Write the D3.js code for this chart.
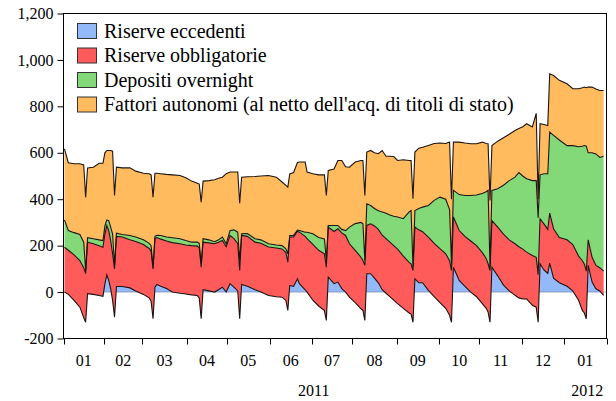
<!DOCTYPE html>
<html lang="it">
<head>
<meta charset="UTF-8">
<title>Riserve e fattori di liquidità</title>
<script src="https://d3js.org/d3.v7.min.js"></script>
<style>
  body { margin: 0; background: #fff; }
</style>
</head>
<body>
<svg id="chart" width="616" height="401"></svg>
<script>
// giorni lavorativi (punti salienti)
const dates = [
  "2011-01-03","2011-01-05","2011-01-10","2011-01-13","2011-01-17","2011-01-18","2011-01-19","2011-01-24","2011-01-27","2011-01-31",
  "2011-02-01","2011-02-02","2011-02-03","2011-02-04","2011-02-07","2011-02-08","2011-02-09","2011-02-14","2011-02-18","2011-02-23",
  "2011-03-01","2011-03-04","2011-03-07","2011-03-08","2011-03-09","2011-03-10","2011-03-14","2011-03-17","2011-03-22","2011-03-28",
  "2011-03-31","2011-04-05","2011-04-08","2011-04-11","2011-04-12","2011-04-13","2011-04-18","2011-04-21","2011-04-25","2011-04-27",
  "2011-04-29","2011-05-03","2011-05-05","2011-05-09","2011-05-10","2011-05-11","2011-05-16","2011-05-20","2011-05-25","2011-05-31",
  "2011-06-06","2011-06-09","2011-06-13","2011-06-14","2011-06-15","2011-06-17","2011-06-21","2011-06-22","2011-06-27","2011-06-28",
  "2011-07-01","2011-07-06","2011-07-11","2011-07-12","2011-07-13","2011-07-18","2011-07-20","2011-07-22","2011-07-26","2011-07-28",
  "2011-08-02","2011-08-05","2011-08-08","2011-08-09","2011-08-10","2011-08-12","2011-08-16","2011-08-18","2011-08-22","2011-08-24",
  "2011-08-26","2011-08-30","2011-09-01","2011-09-06","2011-09-09","2011-09-12","2011-09-13","2011-09-14","2011-09-16","2011-09-20",
  "2011-09-23","2011-09-28","2011-10-03","2011-10-06","2011-10-10","2011-10-11","2011-10-12","2011-10-17","2011-10-20","2011-10-25",
  "2011-10-28","2011-11-02","2011-11-04","2011-11-07","2011-11-08","2011-11-09","2011-11-14","2011-11-17","2011-11-22","2011-11-25",
  "2011-11-29","2011-12-01","2011-12-05","2011-12-08","2011-12-12","2011-12-13","2011-12-14","2011-12-16","2011-12-20","2011-12-21",
  "2011-12-23","2011-12-28","2012-01-03","2012-01-06","2012-01-11","2012-01-13","2012-01-16","2012-01-17","2012-01-18","2012-01-20",
  "2012-01-24","2012-01-26","2012-01-30"
];
const eccedenti = [
  0,-10,-36,-65,-110,-130,-7,-10,-15,-18,
  35,74,50,14,-36,-108,24,24,18,5,
  -10,-25,-40,-115,21,33,25,15,0,-5,
  -8,-12,-15,-25,-115,10,5,0,10,21,
  0,36,21,5,-115,33,25,10,0,-15,
  -20,-22,-36,-79,28,25,57,36,10,0,
  -35,-60,-80,-122,64,36,43,15,0,-22,
  -45,-72,-79,-122,79,79,60,40,10,-5,
  -20,-35,-50,-70,-90,-95,-130,57,40,40,
  7,-20,-45,-70,-100,-130,107,50,25,0,
  -20,-50,-70,-86,-130,107,70,30,5,-14,
  -25,-30,-29,-57,-65,-130,122,95,80,125,
  60,40,25,5,-35,-80,-90,-115,115,43,
  14,5,-14
];
const obbligatorie = [
  193,190,196,201,215,210,222,218,215,211,
  215,213,215,208,201,208,216,213,207,213,
  215,213,215,215,209,202,203,205,213,213,
  211,212,213,215,222,205,207,208,205,201,
  195,208,209,203,208,211,215,205,210,209,
  210,208,206,208,209,212,205,222,230,230,
  240,240,245,229,216,225,230,240,244,230,
  225,222,215,237,208,215,225,230,235,235,
  235,235,235,225,218,217,223,223,228,220,
  230,230,232,235,235,223,216,215,215,220,
  220,220,215,208,223,201,210,220,220,222,
  220,215,201,215,215,205,194,199,190,215,
  213,195,200,200,190,215,210,205,110,107,
  101,100,104
];
const overnight = [
  118,85,96,112,110,15,19,22,25,29,
  35,24,43,58,85,15,14,11,19,19,
  20,22,25,7,10,10,16,17,21,22,
  19,15,17,20,15,15,13,9,10,15,
  13,21,38,50,43,7,12,15,15,14,
  13,14,16,36,7,7,5,7,18,28,
  46,55,64,29,7,26,14,15,21,72,
  115,150,158,21,93,79,75,80,100,110,
  117,127,138,161,217,229,17,71,92,106,
  136,185,222,235,220,27,115,155,176,196,
  218,255,287,316,17,130,165,210,255,287,
  320,315,316,322,330,245,189,216,240,349,
  402,420,406,426,471,493,511,538,375,450,
  480,475,495
];
const autonomi = [
  306,292,297,305,333,314,301,308,330,333,
  315,299,302,330,357,301,284,287,291,284,
  287,300,305,302,272,267,266,270,271,272,
  270,263,254,255,265,248,255,267,265,258,
  302,252,249,259,247,244,245,268,275,294,
  292,274,274,287,265,271,291,295,302,259,
  259,270,276,280,237,243,280,297,275,258,
  265,267,273,280,223,237,240,246,265,245,
  253,257,244,254,222,216,292,252,260,258,
  258,245,233,240,291,280,208,226,226,223,
  221,221,208,201,285,193,205,205,200,201,
  190,212,237,231,290,80,220,212,207,251,
  258,257,266,245,250,252,252,252,283,283,
  280,288,283
];

const seriesNames = ["Riserve eccedenti", "Riserve obbligatorie", "Depositi overnight",
  "Fattori autonomi (al netto dell'acq. di titoli di stato)"];
const colors = ["#94b9f9", "#ff5b5b", "#83d977", "#ffbb5e"];
const monthLabels = ["01","02","03","04","05","06","07","08","09","10","11","12","01"];
const yearLabels = ["2011", "2012"];
const yTicks = [-200, 0, 200, 400, 600, 800, 1000, 1200];

const serif = '"Liberation Serif", "Times New Roman", Times, serif';
const svg = d3.select("#chart");

// asse dei giorni lavorativi (lun-ven) a partire dal 3 gennaio 2011
const parse = d3.timeParse("%Y-%m-%d");
const start = new Date(2011, 0, 3);
function bday(d) {
  const n = d3.timeDay.count(start, d);
  return Math.floor(n / 7) * 5 + Math.min(((n % 7) + 7) % 7, 5);
}

const rows = dates.map((s, i) => ({
  i: bday(parse(s)),
  a: eccedenti[i], b: obbligatorie[i], c: overnight[i], d: autonomi[i]
}));

// inizio di ogni mese, da gen 2011 a feb 2012
const monthStarts = d3.range(14).map(m => bday(new Date(2011, m, 1)));

const x = d3.scaleLinear().domain([0, monthStarts[13]]).range([63.5, 606.5]);
const y = d3.scaleLinear().domain([-200, 1200]).range([338.5, 13.5]);

const layers = d3.stack().keys(["a", "b", "c", "d"])(rows);

const area = d3.area()
  .x(d => x(d.data.i + 0.5))
  .y0(d => y(d[0]))
  .y1(d => y(d[1]));
const topLine = d3.line()
  .x(d => x(d.data.i + 0.5))
  .y(d => y(d[1]));

const plot = svg.append("g");

// area blu e linea dello zero
plot.append("path").datum(layers[0]).attr("d", area).attr("fill", colors[0]);
plot.append("line")
  .attr("x1", x(0)).attr("x2", x(monthStarts[13]))
  .attr("y1", y(0)).attr("y2", y(0))
  .attr("stroke", "#55698f").attr("stroke-width", 1).attr("stroke-dasharray", "1,1");

layers.slice(1).forEach((l, k) => {
  plot.append("path").datum(l).attr("d", area).attr("fill", colors[k + 1]);
});
layers.forEach(l => {
  plot.append("path").datum(l).attr("d", topLine)
    .attr("fill", "none").attr("stroke", "#1c1410").attr("stroke-width", 1.1);
});

// cornice
svg.append("rect")
  .attr("x", x(0)).attr("y", y(1200))
  .attr("width", x(monthStarts[13]) - x(0)).attr("height", y(-200) - y(1200))
  .attr("fill", "none").attr("stroke", "#000").attr("stroke-width", 1);

// asse y
const fmt = d3.formatLocale({ decimal: ".", thousands: ",", grouping: [3], currency: ["", ""], minus: "-" }).format(",");
const yAxis = svg.append("g")
  .attr("transform", `translate(${x(0)},0)`)
  .call(d3.axisLeft(y).tickValues(yTicks).tickFormat(fmt).tickSize(6).tickPadding(4));
yAxis.select(".domain").remove();
yAxis.selectAll("text").style("font-family", serif).style("font-size", "16px").attr("fill", "#000");

// asse x: tacche ai confini dei mesi
const xAxis = svg.append("g").attr("transform", `translate(0,${y(-200)})`);
xAxis.selectAll("line").data(monthStarts).join("line")
  .attr("x1", d => Math.round(x(d)) + 0.5).attr("x2", d => Math.round(x(d)) + 0.5)
  .attr("y1", 0).attr("y2", 6)
  .attr("stroke", "#000");
xAxis.selectAll("text.m").data(monthLabels).join("text")
  .attr("class", "m")
  .attr("x", (d, k) => (x(monthStarts[k]) + x(monthStarts[k + 1])) / 2)
  .attr("y", 27)
  .attr("text-anchor", "middle")
  .style("font-family", serif).style("font-size", "16px")
  .text(d => d);
xAxis.selectAll("text.yr").data(yearLabels).join("text")
  .attr("class", "yr")
  .attr("x", (d, k) => k === 0 ? (x(monthStarts[0]) + x(monthStarts[12])) / 2
                               : (x(monthStarts[12]) + x(monthStarts[13])) / 2 + 2)
  .attr("y", 57)
  .attr("text-anchor", "middle")
  .style("font-family", serif).style("font-size", "16px")
  .text(d => d);

// legenda
const legend = svg.append("g").attr("transform", "translate(77,23)");
seriesNames.forEach((name, k) => {
  const g = legend.append("g").attr("transform", `translate(0,${k * 24.5})`);
  g.append("rect").attr("x", 0.5).attr("y", 0.5).attr("width", 19).attr("height", 15)
    .attr("fill", colors[k]).attr("stroke", "#333");
  g.append("text").attr("x", 27).attr("y", 14.5)
    .style("font-family", serif).style("font-size", "20px")
    .text(name);
});
</script>
</body>
</html>
